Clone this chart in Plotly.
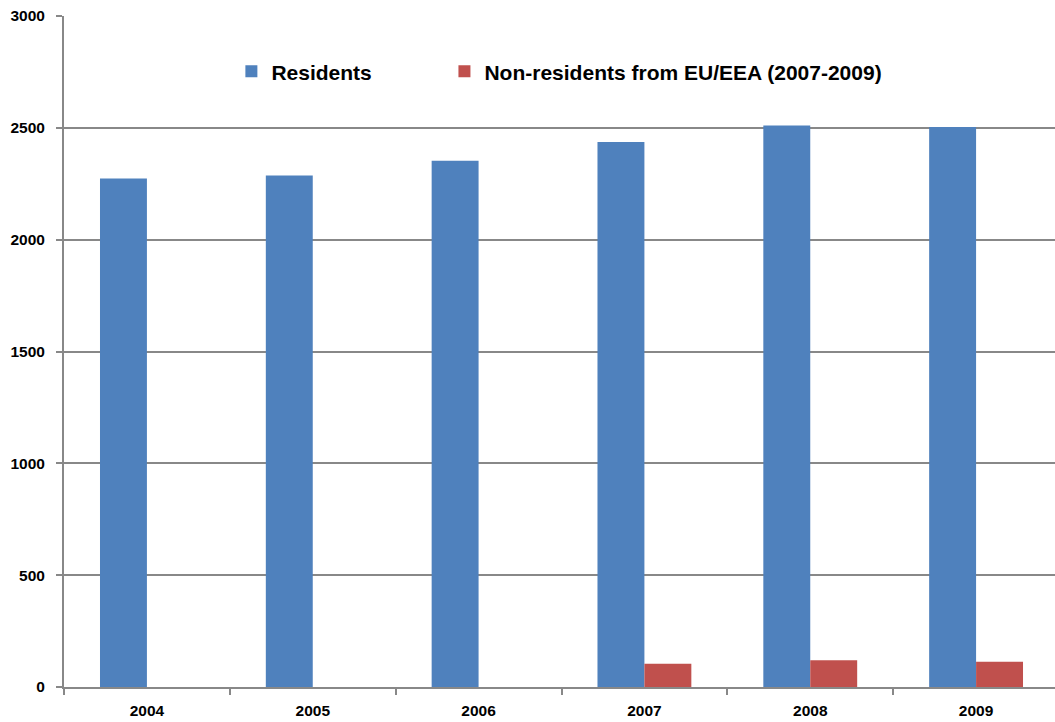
import plotly.graph_objects as go

# Annual counts
years = ["2004", "2005", "2006", "2007", "2008", "2009"]
residents = [2274, 2287, 2353, 2437, 2510, 2504]
non_residents = [None, None, None, 104, 120, 113]

y_ticks = [0, 500, 1000, 1500, 2000, 2500, 3000]

BLUE = "#4F81BD"
RED = "#C0504D"
GRID = "#888888"
FONT = "Liberation Sans, Arial, sans-serif"

fig = go.Figure()
fig.add_trace(go.Bar(
    x=years, y=residents, name="Residents",
    marker=dict(color=BLUE, line=dict(width=0)),
    legend="legend", showlegend=True,
))
fig.add_trace(go.Bar(
    x=years, y=non_residents, name="Non-residents from EU/EEA (2007-2009)",
    marker=dict(color=RED, line=dict(width=0)),
    legend="legend2", showlegend=True,
))

legend_style = dict(
    orientation="h", xanchor="left", y=0.917, yanchor="middle",
    font=dict(size=21, family=FONT, weight="bold", color="black"),
    bgcolor="rgba(0,0,0,0)", borderwidth=0, visible=True,
)

fig.update_layout(
    width=1055, height=722,
    margin=dict(l=64, r=0, t=16, b=35),
    paper_bgcolor="white", plot_bgcolor="white",
    showlegend=True,
    barmode="group", bargap=0.434, bargroupgap=0,
    font=dict(family=FONT, color="black", weight="bold"),
    legend=dict(x=0.1689, **legend_style),
    legend2=dict(x=0.3839, **legend_style),
    xaxis=dict(
        type="category", range=[-0.5, 5.5 - 4 / 166],
        showline=True, linecolor=GRID, linewidth=2,
        ticks="outside", tickson="boundaries", ticklen=6, tickcolor=GRID, tickwidth=2,
        tickfont=dict(size=15.5, family=FONT, weight="bold"),
        ticklabelstandoff=8,
        showgrid=False,
    ),
    yaxis=dict(
        range=[0, 3000], tickvals=y_ticks,
        showline=True, linecolor=GRID, linewidth=2,
        ticks="outside", ticklen=6, tickcolor=GRID, tickwidth=2,
        showgrid=True, gridcolor=GRID, gridwidth=2,
        zeroline=False,
        tickfont=dict(size=15.5, family=FONT, weight="bold"),
        ticklabelstandoff=8,
    ),
)

fig.write_html("out.html")
